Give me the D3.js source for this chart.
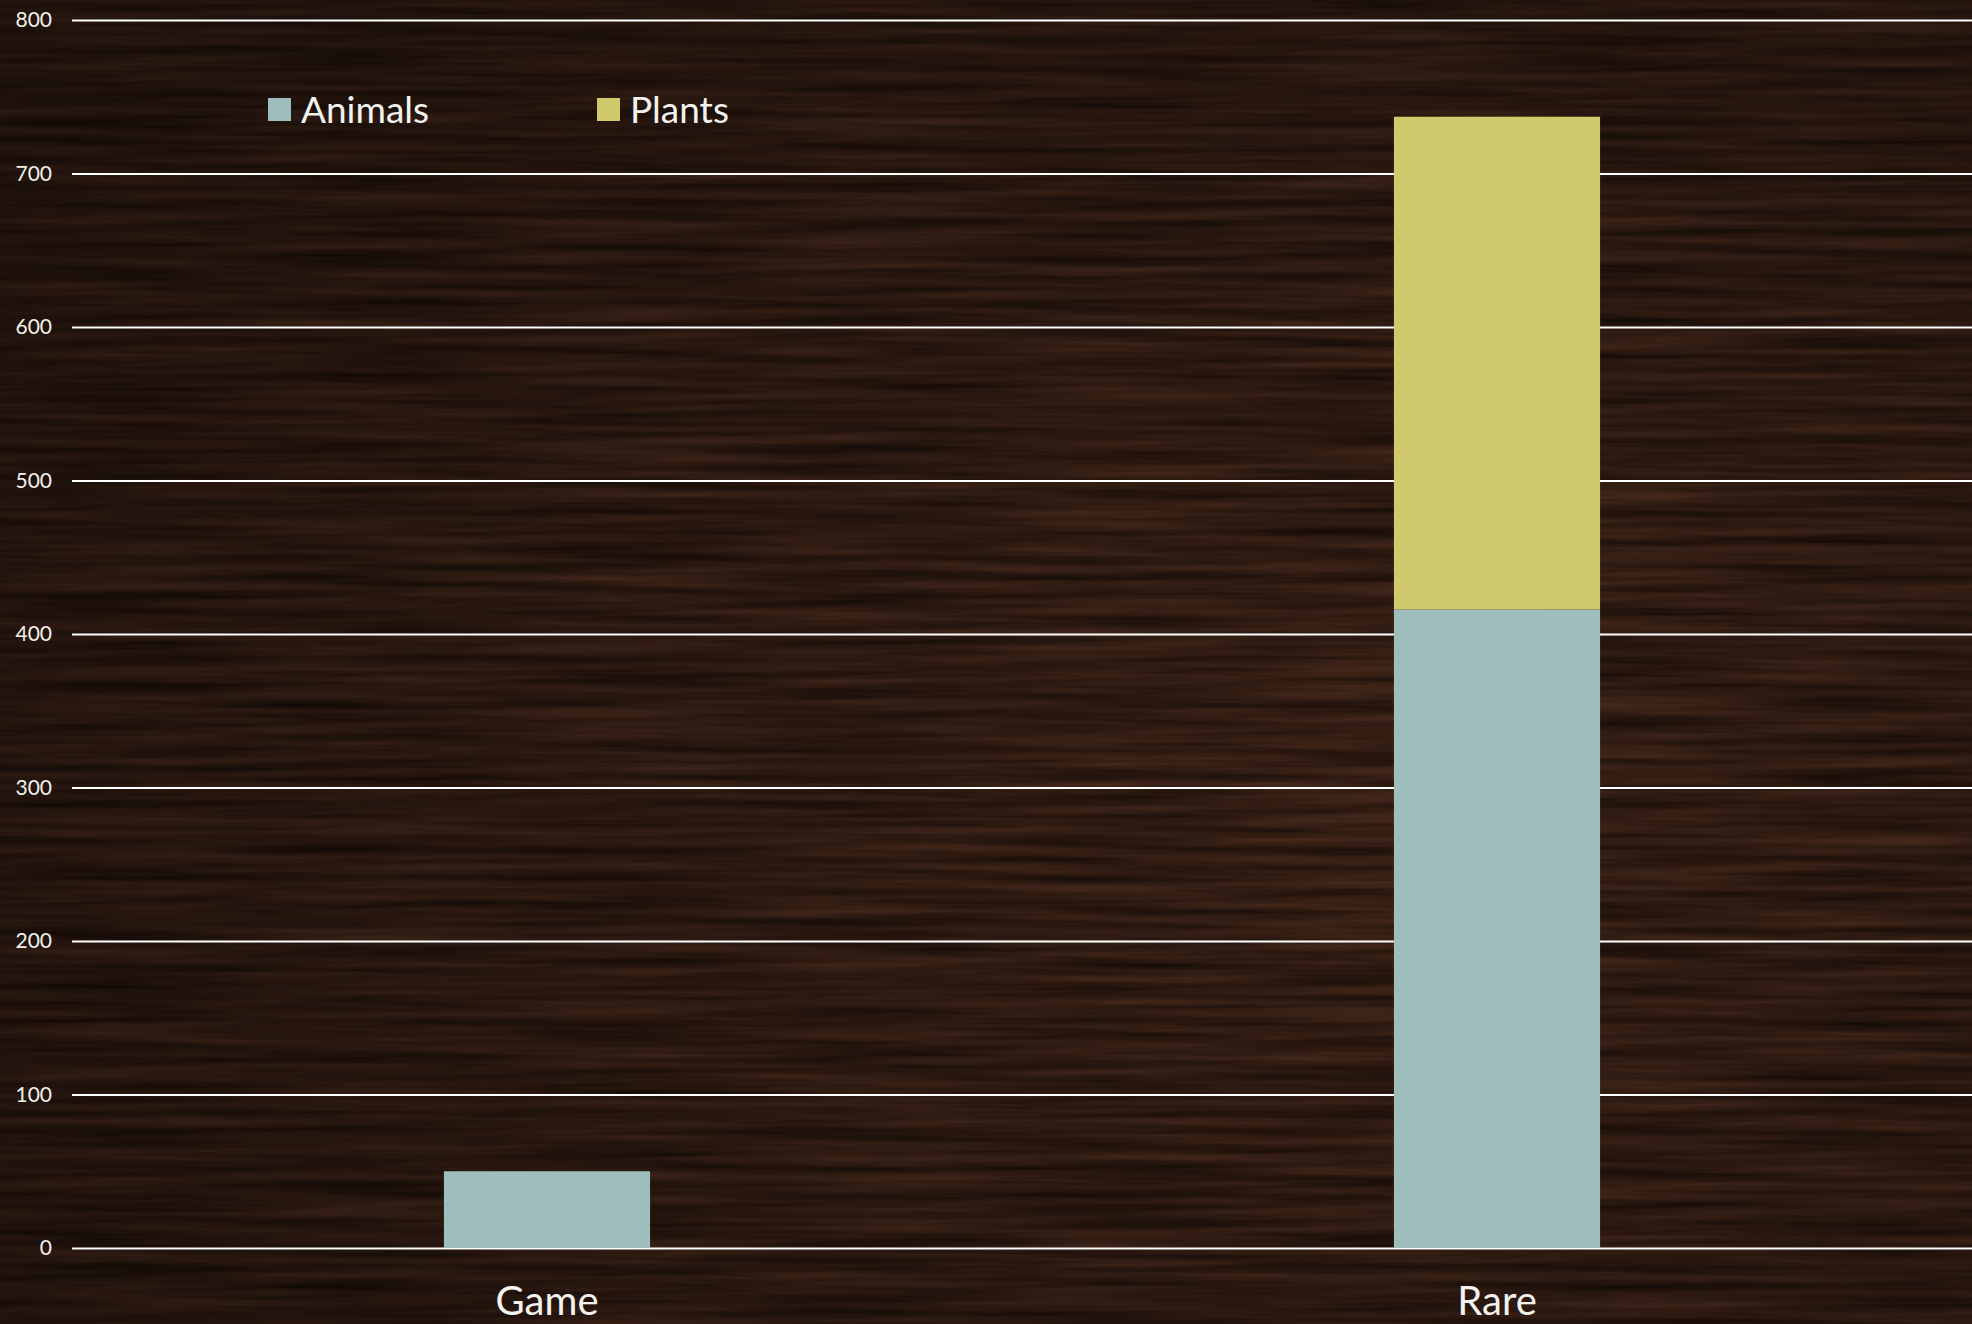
<!DOCTYPE html>
<html>
<head>
<meta charset="utf-8">
<script src="https://cdn.jsdelivr.net/npm/d3@7"></script>
<style>
  html, body { margin: 0; padding: 0; background: #22150e; }
  svg { display: block; font-family: Lato, "Open Sans", sans-serif; }
</style>
</head>
<body>
<div id="chart"></div>
<script>
const categories = ["Game", "Rare"];
const seriesNames = ["Animals", "Plants"];
const animals = [50, 416];
const plants = [0, 321];
const yTicks = [0, 100, 200, 300, 400, 500, 600, 700, 800];
const seriesColors = ["#9dbebd", "#d0ca6d"];

const W = 1972, H = 1324;
const margin = { top: 20, right: 0, bottom: 76, left: 72 };
const w = W - margin.left - margin.right;
const h = H - margin.top - margin.bottom;

const svg = d3.select("#chart").append("svg")
  .attr("width", W).attr("height", H);

// dark wood-ish background
const defs = svg.append("defs");
const wood = defs.append("filter").attr("id", "wood")
  .attr("x", 0).attr("y", 0).attr("width", W).attr("height", H)
  .attr("filterUnits", "userSpaceOnUse")
  .attr("color-interpolation-filters", "sRGB");
wood.append("feTurbulence")
  .attr("type", "fractalNoise").attr("baseFrequency", "0.004 0.11")
  .attr("numOctaves", 4).attr("seed", 7);
wood.append("feColorMatrix").attr("type", "matrix")
  .attr("values", "0.26 0 0 0 0.07  0.16 0 0 0 0.035  0.11 0 0 0 0.02  0 0 0 0 1");

const shade = defs.append("radialGradient").attr("id", "shade")
  .attr("cx", "70%").attr("cy", "60%").attr("r", "85%");
shade.append("stop").attr("offset", "0%").attr("stop-color", "#000").attr("stop-opacity", 0);
shade.append("stop").attr("offset", "100%").attr("stop-color", "#000").attr("stop-opacity", 0.4);

svg.append("rect").attr("width", W).attr("height", H).attr("fill", "#2a1a11");
svg.append("rect").attr("width", W).attr("height", H).attr("filter", "url(#wood)");
svg.append("rect").attr("width", W).attr("height", H).attr("fill", "url(#shade)");

const g = svg.append("g").attr("transform", `translate(${margin.left},${margin.top})`);

const x = d3.scaleBand().domain(categories).range([0, w])
  .paddingInner(0.783).paddingOuter(0.3915);
const y = d3.scaleLinear().domain([0, 800]).range([h, 0]);

g.append("g")
  .call(d3.axisLeft(y).tickValues(yTicks).tickSize(-w).tickPadding(20))
  .call(a => a.select(".domain").remove())
  .call(a => a.selectAll(".tick line").attr("stroke", "#ffffff").attr("stroke-width", 2.2))
  .call(a => a.selectAll(".tick text").attr("fill", "#f2f0ec")
    .attr("font-size", 21).attr("font-family", "Lato, sans-serif"));

const rows = categories.map((c, i) => ({ cat: c, Animals: animals[i], Plants: plants[i] }));
const stacked = d3.stack().keys(seriesNames)(rows);

g.selectAll(".series").data(stacked).join("g")
  .attr("class", "series")
  .attr("fill", (d, i) => seriesColors[i])
  .selectAll("rect").data(d => d).join("rect")
  .attr("x", d => x(d.data.cat))
  .attr("y", d => y(d[1]))
  .attr("width", x.bandwidth())
  .attr("height", d => y(d[0]) - y(d[1]));

g.selectAll(".cat-label").data(categories).join("text")
  .attr("class", "cat-label")
  .attr("x", d => x(d) + x.bandwidth() / 2)
  .attr("y", h + 67)
  .attr("text-anchor", "middle")
  .attr("fill", "#f4f2ee").attr("font-size", 40)
  .text(d => d);

// legend
const legend = svg.append("g").attr("transform", "translate(268,98)");
const item = legend.selectAll(".legend-item").data(seriesNames).join("g")
  .attr("class", "legend-item")
  .attr("transform", (d, i) => `translate(${i * 329},0)`);
item.append("rect")
  .attr("width", 23).attr("height", 23)
  .attr("fill", (d, i) => seriesColors[i]);
item.append("text")
  .attr("x", 33).attr("y", 25)
  .attr("fill", "#f4f2ee").attr("font-size", 37)
  .text(d => d);
</script>
</body>
</html>
